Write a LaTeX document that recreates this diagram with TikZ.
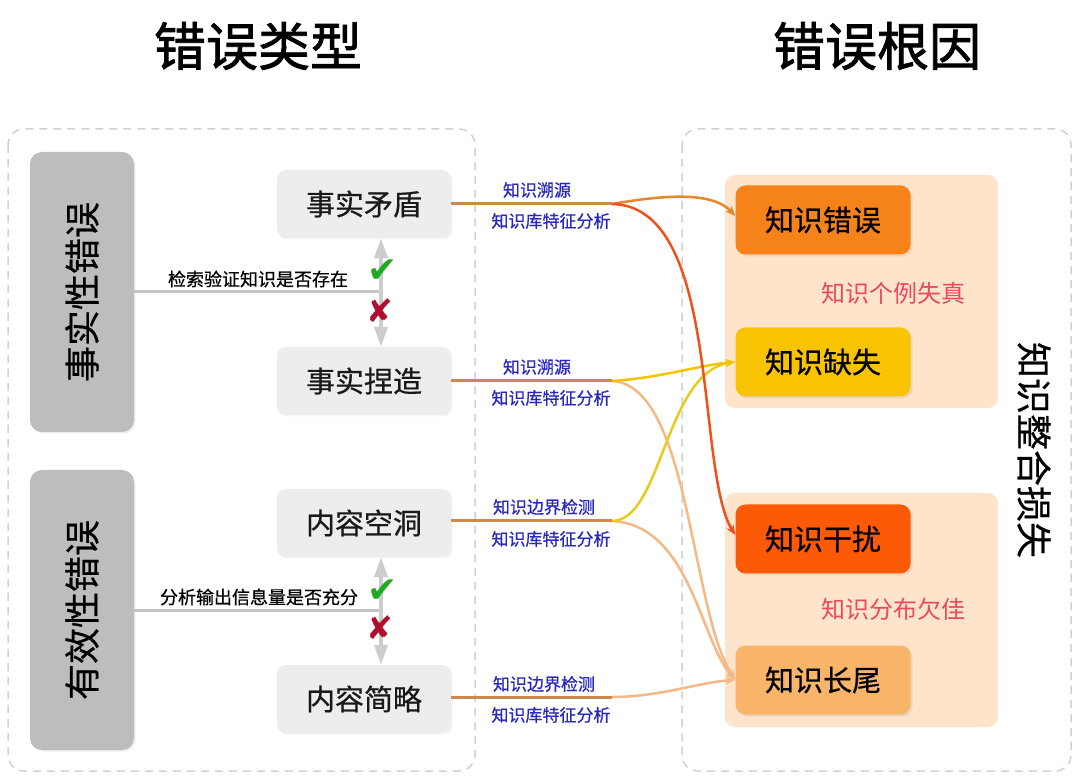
\documentclass[tikz,border=0pt]{standalone}
\usepackage{fontspec}
\setmainfont{Noto Sans CJK SC}
\newfontfamily\heavyfont[FakeBold=0.6]{Noto Sans CJK SC}
\newfontfamily\titlefont[FakeBold=1.6]{Noto Sans CJK SC}
\newfontfamily\symfont{DejaVu Sans}
\usetikzlibrary{arrows.meta,shadows}
\definecolor{framegray}{HTML}{D2D2D2}
\definecolor{boxgray}{HTML}{EDEDED}
\definecolor{catgray}{HTML}{BDBDBD}
\definecolor{probegray}{HTML}{C4C4C4}
\definecolor{peach}{HTML}{FDE4CB}
\definecolor{errorange}{HTML}{F6821A}
\definecolor{missyellow}{HTML}{F8C300}
\definecolor{intfred}{HTML}{FC5A07}
\definecolor{tailorange}{HTML}{F8B469}
\definecolor{labelblue}{HTML}{2828BE}
\definecolor{labelred}{HTML}{E84A5F}
\definecolor{feedbrown}{HTML}{CC8A50}
\definecolor{curveA}{HTML}{E8862A}
\definecolor{curveB}{HTML}{F0501A}
\definecolor{curveC}{HTML}{F5C400}
\definecolor{curveD}{HTML}{F6B884}
\definecolor{curveE}{HTML}{E6CC1E}
\definecolor{checkgreen}{HTML}{22AA22}
\definecolor{crossred}{HTML}{B01030}
\begin{document}
\begin{tikzpicture}[x=1pt,y=-1pt,
  frame/.style={draw=framegray, line width=1.5pt, dash pattern=on 8pt off 6pt, rounded corners=16pt},
  typebox/.style={fill=boxgray, rounded corners=9pt, minimum width=174pt, minimum height=68pt, inner sep=0pt,
     font=\heavyfont\fontsize{29}{29}\selectfont, text=black!90, drop shadow={opacity=0.08, shadow xshift=1.5pt, shadow yshift=-1.5pt}},
  catbox/.style={fill=catgray, rounded corners=12pt, minimum width=104pt, minimum height=280pt, inner sep=0pt,
     drop shadow={opacity=0.12, shadow xshift=1.5pt, shadow yshift=-1.5pt}},
  cattext/.style={font=\heavyfont\fontsize{36}{36}\selectfont, text=black, rotate=90},
  groupbg/.style={fill=peach, rounded corners=10pt},
  causebox/.style={rounded corners=10pt, minimum width=175pt, minimum height=69pt, inner sep=0pt,
     font=\heavyfont\fontsize{29}{29}\selectfont, text=black, drop shadow={opacity=0.15, shadow xshift=2pt, shadow yshift=-2pt}},
  titletext/.style={font=\titlefont\fontsize{52}{52}\selectfont, text=black},
  bluelabel/.style={text=labelblue, font=\heavyfont\fontsize{17}{17}\selectfont, inner sep=0pt},
  redlabel/.style={text=labelred, font=\fontsize{24}{24}\selectfont, inner sep=0pt},
  probelabel/.style={text=black, font=\heavyfont\fontsize{18}{18}\selectfont, inner sep=0pt},
  probe/.style={draw=probegray, line width=3pt},
  vsplit/.style={draw=probegray!85, line width=3.5pt, {Triangle[length=20pt,width=13pt]}-{Triangle[length=20pt,width=13pt]}},
  feed/.style={draw=feedbrown, line width=3pt},
  flow/.style={line width=2.5pt, -{Stealth[length=10pt,width=8pt]}},
  checkmark/.style={text=checkgreen, font=\symfont\fontsize{36}{36}\selectfont, inner sep=0pt},
  crossmark/.style={text=crossred, font=\symfont\fontsize{32}{32}\selectfont, inner sep=0pt}
]
\useasboundingbox[fill=white] (0,0) rectangle (1080,783);

% titles
\node[titletext] (t1) at (258,46) {错误类型};
\node[titletext] (t2) at (877,46) {错误根因};

% frames
\draw[frame] (8,129) rectangle (475,771);
\draw[frame] (682,129) rectangle (1071,771);

% category boxes
\node[catbox] (fact) at (82,292) {};
\node[cattext] at (fact) {事实性错误};
\node[catbox] (valid) at (82,610) {};
\node[cattext] at (valid) {有效性错误};

% type boxes
\node[typebox] (m1) at (364,204) {事实矛盾};
\node[typebox] (m2) at (364,381) {事实捏造};
\node[typebox] (m3) at (364,523) {内容空洞};
\node[typebox] (m4) at (364,699) {内容简略};

% probe lines
\coordinate (p1) at (382,292);
\coordinate (p2) at (382,610);
\draw[probe] (fact.east) -- (p1);
\draw[probe] (valid.east) -- (p2);
\node[probelabel] (q1) at (258,279) {检索验证知识是否存在};
\node[probelabel] (q2) at (259,597) {分析输出信息量是否充分};

\draw[vsplit] ([xshift=17pt]m1.south) -- ([xshift=17pt]m2.north);
\draw[vsplit] ([xshift=17pt]m3.south) -- ([xshift=17pt]m4.north);
\node[checkmark] (c1) at (383,271) {✔};
\node[crossmark] (x1) at (380,311) {✘};
\node[checkmark] (c2) at (383,591) {✔};
\node[crossmark] (x2) at (380,628) {✘};

% right groups
\fill[groupbg] (725,175) rectangle (998,408);
\fill[groupbg] (725,493) rectangle (998,727);
\node[causebox, fill=errorange] (err) at (823,220) {知识错误};
\node[causebox, fill=missyellow] (miss) at (823,362) {知识缺失};
\node[causebox, fill=intfred] (intf) at (823,539) {知识干扰};
\node[causebox, fill=tailorange] (tail) at (823,680) {知识长尾};
\node[redlabel] (r1) at (893,293) {知识个例失真};
\node[redlabel] (r2) at (893,609) {知识分布欠佳};
\node[font=\heavyfont\fontsize{36}{36}\selectfont, rotate=-90] (loss) at (1034,450) {知识整合损失};

% feed lines
\coordinate (j1) at (612,204);
\coordinate (j2) at (612,381);
\coordinate (j3) at (612,521);
\coordinate (j4) at (612,697);
\draw[feed] (m1.east) -- (j1);
\draw[feed] (m2.east) -- (j2);
\draw[feed] ([yshift=2pt]m3.east) -- (j3);
\draw[feed] ([yshift=2pt]m4.east) -- (j4);

\node[bluelabel] (b1a) at (537,190) {知识溯源};
\node[bluelabel] (b1b) at (551,221) {知识库特征分析};
\node[bluelabel] (b2a) at (537,367) {知识溯源};
\node[bluelabel] (b2b) at (551,398) {知识库特征分析};
\node[bluelabel] (b3a) at (544,507) {知识边界检测};
\node[bluelabel] (b3b) at (551,539) {知识库特征分析};
\node[bluelabel] (b4a) at (544,684) {知识边界检测};
\node[bluelabel] (b4b) at (551,715) {知识库特征分析};

% flows
\draw[flow, draw=curveD] (j2) .. controls (690,385) and (690,610) .. (tail.west);
\draw[flow, draw=curveD] (j3) .. controls (690,525) and (700,640) .. (tail.west);
\draw[flow, draw=curveD] (j4) .. controls (660,697) and (700,682) .. (tail.west);
\draw[flow, draw=curveE] (j3) .. controls (662,521) and (665,372) .. (miss.west);
\draw[flow, draw=curveC] (j2) .. controls (660,378) and (700,365) .. (miss.west);
\draw[flow, draw=curveA] (j1) .. controls (680,192) and (716,195) .. ([yshift=4pt]err.west);
\draw[flow, draw=curveB] (j1) .. controls (722,206) and (695,470) .. ([yshift=4pt]intf.west);
\end{tikzpicture}
\end{document}
